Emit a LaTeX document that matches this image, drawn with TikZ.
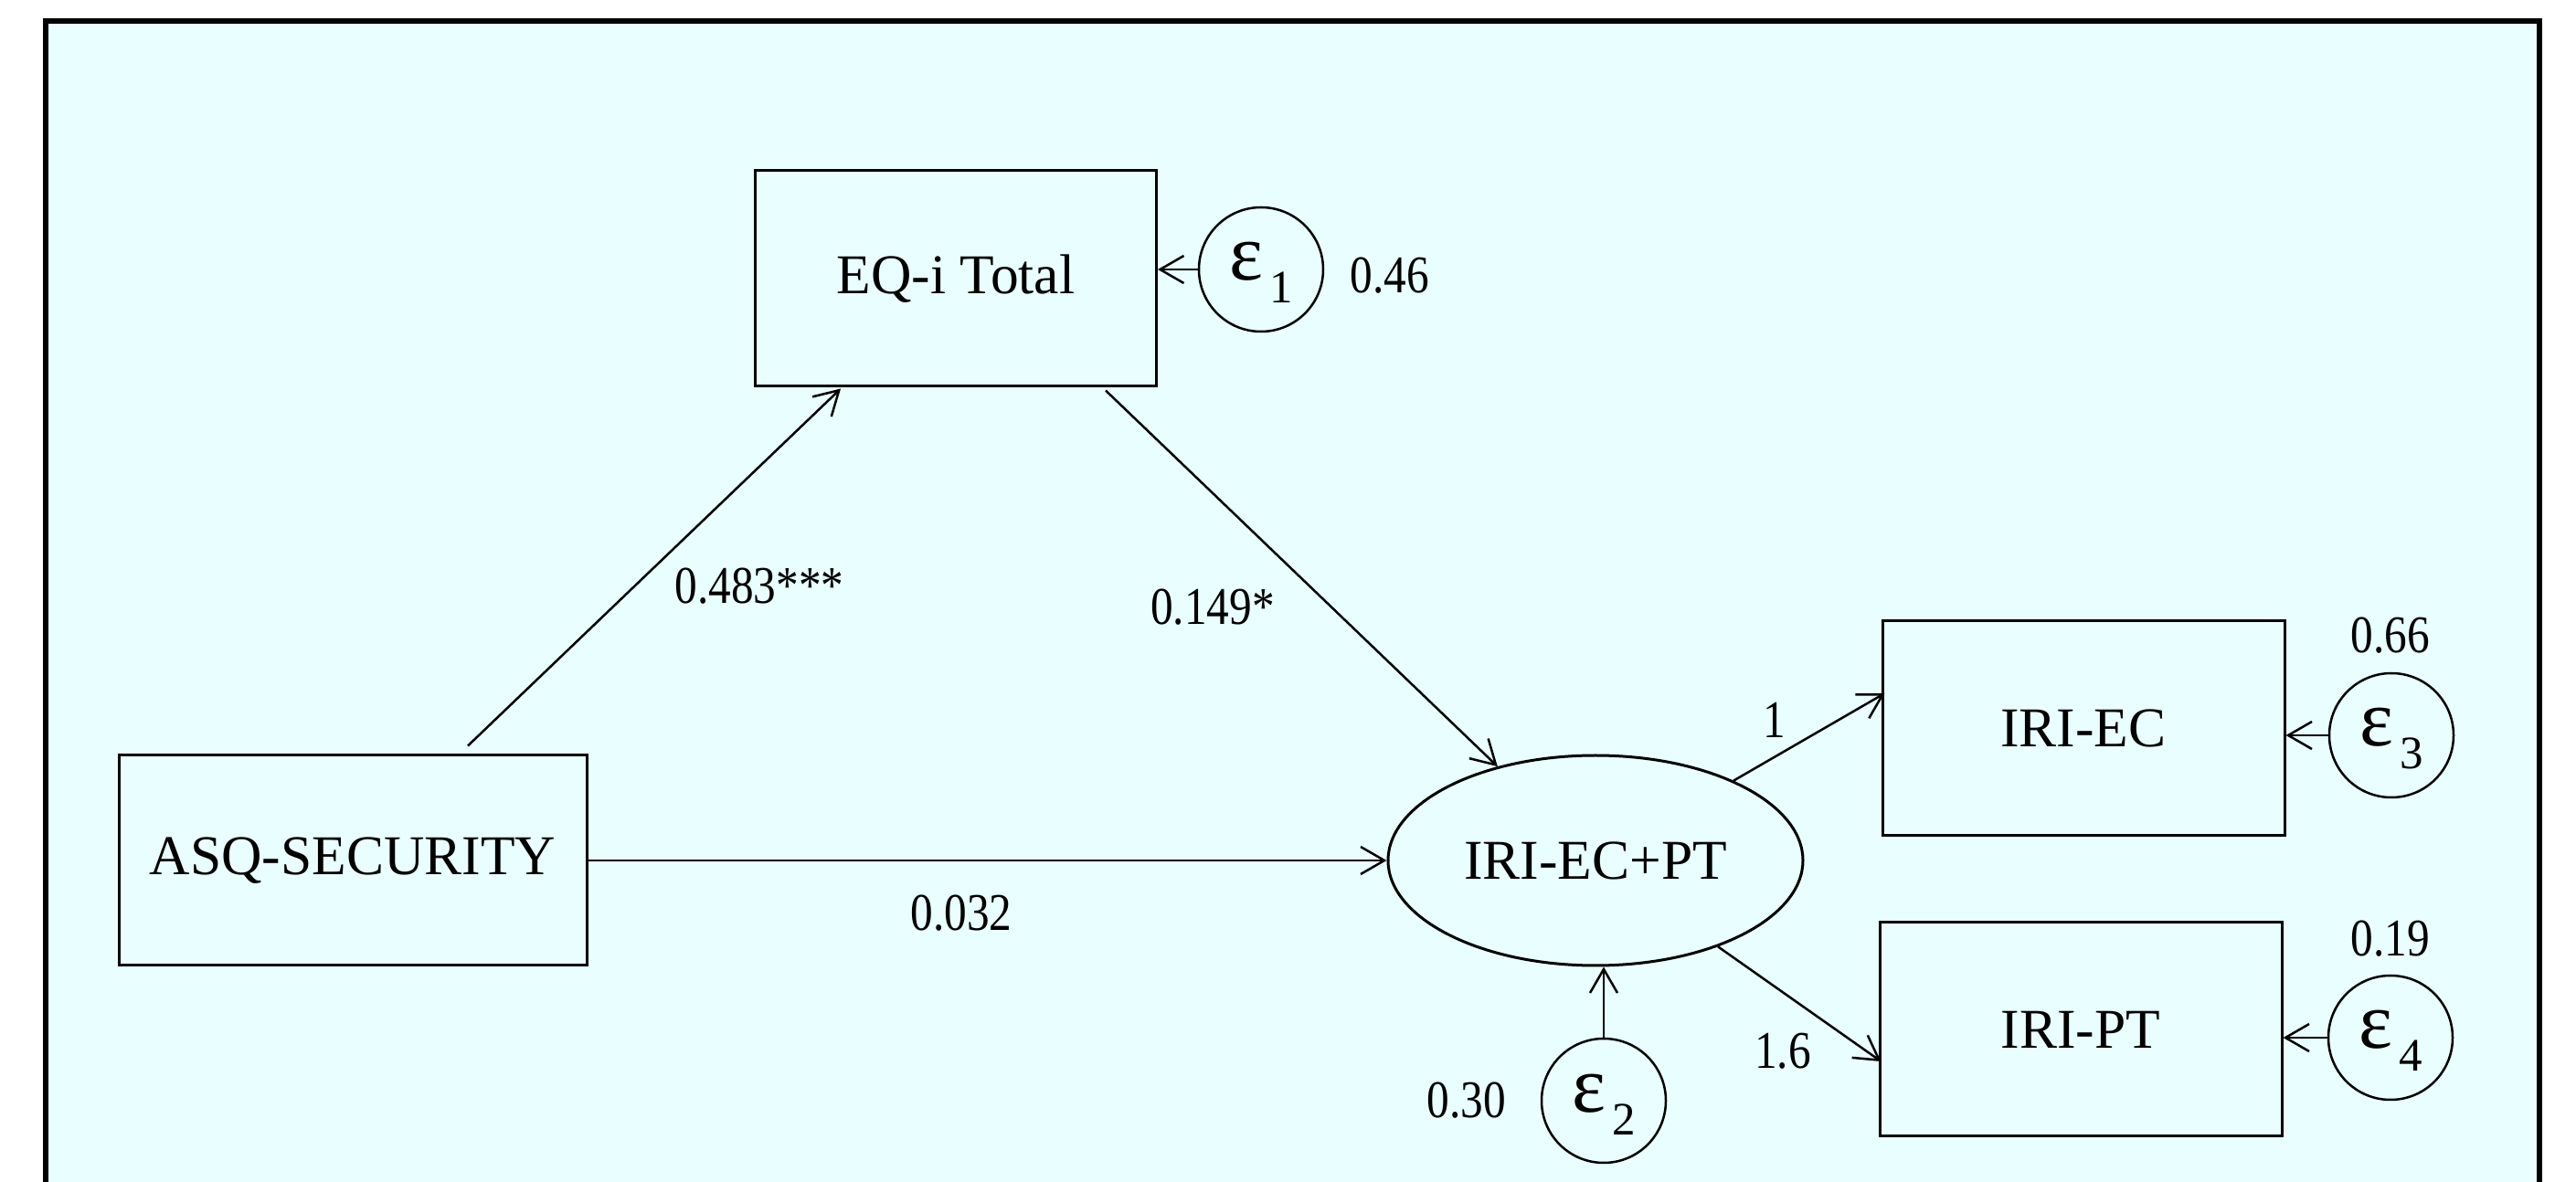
\documentclass[tikz,border=0pt]{standalone}
\usepackage{fontspec}
\setmainfont{Liberation Serif}
\usetikzlibrary{arrows.meta,calc,shapes.geometric}
\definecolor{panel}{RGB}{233,254,254}
% path coefficients are set in a slightly condensed face
\newcommand\coef[1]{\scalebox{0.85}[1]{#1}}
% error term: epsilon with a lowered index
\newcommand\errlabel[1]{{\fontsize{25}{25}\selectfont ε}\kern0.07cm\raisebox{-0.25cm}{\fontsize{14.5}{14.5}\selectfont #1}}

\begin{document}
\begin{tikzpicture}[
  obsbox/.style={draw, line width=0.03cm, minimum width=4.4cm, minimum height=2.35cm,
    inner sep=0pt, font=\fontsize{17.5}{20}\selectfont},
  latent/.style={draw, ellipse, line width=0.03cm, minimum width=4.54cm, minimum height=2.3cm,
    inner sep=0pt, font=\fontsize{17.5}{20}\selectfont},
  errnode/.style={draw, circle, line width=0.025cm, minimum size=1.36cm, inner sep=0pt,
    text height=0.40cm, text depth=0.16cm},
  sempath/.style={line width=0.025cm, -{Straight Barb[length=0.26cm,width=0.3cm]}},
  coeftext/.style={inner sep=0pt, font=\fontsize{16.5}{18}\selectfont}
]
\clip (0,0) rectangle (28.19,-12.94);
\fill[white] (0,0) rectangle (28.19,-12.94);
% panel
\draw[line width=0.06cm, fill=panel] (0.50,-0.23) rectangle (27.79,-13.6);

% observed and latent variables
\node[obsbox, minimum width=5.12cm, minimum height=2.3cm] (ASQ) at (3.86,-9.42) {ASQ-SECURITY};
\node[obsbox, minimum width=4.39cm, minimum height=2.36cm] (EQ) at (10.46,-3.05) {EQ-i Total};
\node[latent] (IRI) at (17.46,-9.42) {IRI-EC+PT};
\node[obsbox] (EC) at (22.80,-7.97) {IRI-EC};
\node[obsbox, minimum height=2.34cm] (PT) at (22.77,-11.27) {IRI-PT};

% error terms
\node[errnode] (e1) at (13.80,-2.95) {\errlabel{1}};
\node[errnode] (e2) at (17.55,-12.05) {\errlabel{2}};
\node[errnode] (e3) at (26.17,-8.05) {\errlabel{3}};
\node[errnode] (e4) at (26.16,-11.36) {\errlabel{4}};

% structural paths
\coordinate (asqtop) at ($(ASQ.north)+(1.26,0.09)$);
\coordinate (eqbotl) at ($(EQ.south west)+(0.95,-0.01)$);
\coordinate (eqbotr) at ($(EQ.south west)+(3.85,-0.03)$);
\draw[sempath] (asqtop) -- (eqbotl);
\draw[sempath] (eqbotr) -- (IRI);
\draw[sempath] (ASQ.east) -- (ASQ.east -| IRI.west);

% measurement paths
\draw[sempath] (IRI) -- ($(EC.west)+(0.04,0.38)$);
\draw[sempath] (IRI) -- ($(PT.west)+(0.03,-0.35)$);

% error paths
\draw[sempath] (e1.west) -- (e1.west -| EQ.east);
\draw[sempath] (e2.north) -- (e2.north |- IRI.south);
\draw[sempath] (e3.west) -- (e3.west -| EC.east);
\draw[sempath] (e4.west) -- (e4.west -| PT.east);

% coefficients
\node[coeftext] (c1) at (8.31,-6.42) {\coef{0.483***}};
\node[coeftext] (c2) at (13.27,-6.65) {\coef{0.149*}};
\node[coeftext] (c3) at (10.52,-10.00) {\coef{0.032}};
\node[coeftext] (c4) at (19.42,-7.88) {\coef{1}};
\node[coeftext] (c5) at (19.51,-11.51) {\coef{1.6}};

% error variances
\node[coeftext] (v1) at (15.21,-3.02) {\coef{0.46}};
\node[coeftext] (v2) at (16.05,-12.05) {\coef{0.30}};
\node[coeftext] (v3) at (26.16,-6.96) {\coef{0.66}};
\node[coeftext] (v4) at (26.16,-10.28) {\coef{0.19}};
\end{tikzpicture}
\end{document}
